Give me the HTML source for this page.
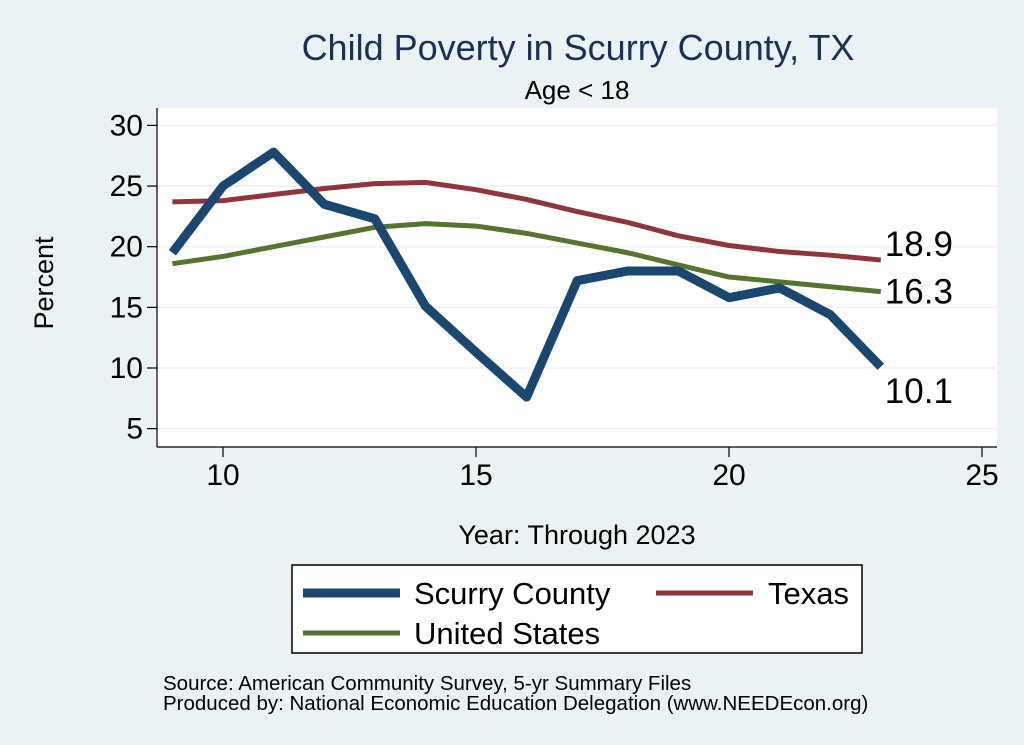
<!DOCTYPE html>
<html><head><meta charset="utf-8"><style>
body{margin:0;background:#eaf2f3;}
svg{display:block;font-family:"Liberation Sans",sans-serif;}
</style></head><body>
<svg id="chart" width="1024" height="745" xmlns="http://www.w3.org/2000/svg">
<rect width="1024" height="745" fill="#eaf2f3"/>
<rect x="157" y="108" width="840" height="339" fill="#ffffff"/>
<text x="578" y="60" font-size="36" fill="#1a2f5a" text-anchor="middle">Child Poverty in Scurry County, TX</text>
<text x="577" y="99" font-size="26" fill="#000" text-anchor="middle">Age &lt; 18</text>
<text x="53" y="283" font-size="27" fill="#000" text-anchor="middle" transform="rotate(-90 53 283)">Percent</text>
<text x="577" y="544" font-size="27" fill="#000" text-anchor="middle">Year: Through 2023</text>
<g id="grid"></g><g id="axes"></g><g id="series"></g>
<rect x="292" y="565" width="570" height="88" fill="#fff" stroke="#000" stroke-width="1.5"/>
<line x1="303" y1="593" x2="400" y2="593" stroke="#1a476f" stroke-width="9"/>
<text x="414" y="604" font-size="31">Scurry County</text>
<line x1="656" y1="593" x2="753" y2="593" stroke="#90353b" stroke-width="5"/>
<text x="768" y="604" font-size="31">Texas</text>
<line x1="303" y1="633" x2="400" y2="633" stroke="#55752f" stroke-width="5"/>
<text x="414" y="644" font-size="31">United States</text>
<text x="163" y="690" font-size="20.5">Source: American Community Survey, 5-yr Summary Files</text>
<text x="163" y="710" font-size="20.5">Produced by: National Economic Education Delegation (www.NEEDEcon.org)</text>
</svg>
<script>
const years=[9,10,11,12,13,14,15,16,17,18,19,20,21,22,23];
const scurry=[19.5,25,27.8,23.5,22.3,15.1,11.3,7.6,17.2,18,18,15.8,16.6,14.4,10.1];
const texas=[23.7,23.8,24.3,24.8,25.2,25.3,24.7,23.9,22.9,22,20.9,20.1,19.6,19.3,18.9];
const us=[18.6,19.2,20,20.8,21.6,21.9,21.7,21.1,20.3,19.5,18.5,17.5,17.1,16.7,16.3];
const xTicks=[10,15,20,25];
const yTicks=[5,10,15,20,25,30];
const X=v=>223+(v-10)*50.6;
const Y=v=>368-(v-10)*12.13;
const NS="http://www.w3.org/2000/svg";
function mk(t,a,p){const e=document.createElementNS(NS,t);for(const k in a)e.setAttribute(k,a[k]);p.appendChild(e);return e;}
const grid=document.getElementById('grid'),axes=document.getElementById('axes'),ser=document.getElementById('series');
yTicks.forEach(t=>{
 const g=mk('line',{x1:157,x2:997,y1:Y(t),y2:Y(t),stroke:'#eaf2f3','stroke-width':1.5},grid);
 
 
 const tk=mk('line',{x1:147,x2:157,y1:Y(t),y2:Y(t),stroke:'#000','stroke-width':1.2},axes);
 
 
 const l=mk('text',{x:143,y:Y(t)+10,'font-size':30,'text-anchor':'end'},axes);l.textContent=t;
 
 
});
xTicks.forEach(t=>{
 const tk=mk('line',{x1:X(t),x2:X(t),y1:447,y2:457,stroke:'#000','stroke-width':1.2},axes);
 
 
 const l=mk('text',{x:X(t),y:485,'font-size':30,'text-anchor':'middle'},axes);l.textContent=t;
 
 
});
const ya=mk('line',{x1:157,x2:157,y1:108,y2:447,stroke:'#000','stroke-width':1.2},axes);


const xa=mk('line',{x1:157,x2:997,y1:447,y2:447,stroke:'#000','stroke-width':1.2},axes);


function line(vals,color,w,name){
 const p=mk('polyline',{points:years.map((y,i)=>X(y)+','+Y(vals[i])).join(' '),fill:'none',stroke:color,'stroke-width':w,'stroke-linejoin':'round'},ser);
 
 
}
line(texas,'#90353b',5,'line-texas');
line(us,'#55752f',5,'line-us');
line(scurry,'#1a476f',9,'line-scurry');
const last=years.length-1;
[[texas,-4,'label-texas'],[us,12,'label-us'],[scurry,36,'label-scurry']].forEach(([v,dy,n])=>{
 const t=mk('text',{x:X(years[last])+4,y:Y(v[last])+dy,'font-size':35},ser);t.textContent=v[last].toFixed(1);
 
 
});
</script>
</body></html>
